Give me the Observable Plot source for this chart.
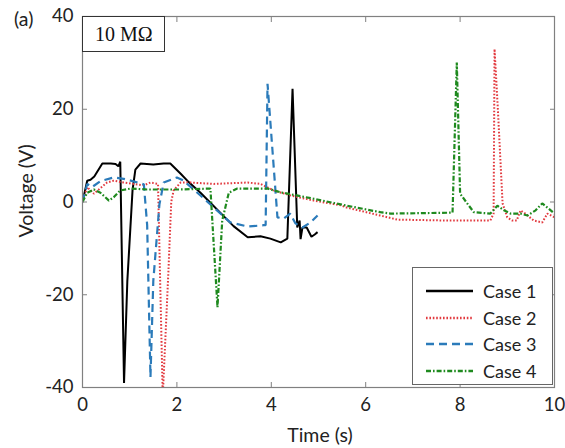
<!DOCTYPE html>
<html>
<head>
<meta charset="utf-8">
<script src="https://cdn.jsdelivr.net/npm/d3@7"></script>
<script src="https://cdn.jsdelivr.net/npm/@observablehq/plot@0.6"></script>
<style>
  html, body { margin: 0; padding: 0; background: #fff; }
  #wrap { position: relative; width: 565px; height: 448px; font-family: Lato, "Open Sans", sans-serif; color: #222; }
  #wrap > svg { position: absolute; left: 0; top: 0; }
  .lbl { position: absolute; font-size: 19.5px; white-space: nowrap; }
  #legend { position: absolute; left: 412px; top: 267px; width: 141px; height: 118px; border: 1px solid #666; background: #fff; box-sizing: border-box; }
  .row { position: absolute; left: 0; width: 139px; height: 24px; font-size: 18px; }
  .row svg { position: absolute; left: 0; top: 0; }
  .row span { position: absolute; left: 70px; top: 1px; line-height: 22px; white-space: nowrap; }
  #rbox { position: absolute; left: 82px; top: 16px; width: 83px; height: 36px; border: 1px solid #333; box-sizing: border-box; background: #fff; font-family: "Liberation Serif", "DejaVu Serif", serif; font-size: 20px; line-height: 34px; padding-left: 12px; color: #111; }
</style>
</head>
<body>
<div id="wrap"></div>
<script>
// ---- data ----
const case1T = [0, 0.1, 0.17, 0.25, 0.42, 0.6, 0.7, 0.76, 0.8, 0.88, 0.95, 1.06, 1.12, 1.23, 1.5, 1.72, 1.86, 2.08, 2.22, 2.5, 3.2, 3.5, 3.77, 3.98, 4.2, 4.34, 4.45, 4.55, 4.6, 4.62, 4.66, 4.75, 4.85, 4.92, 4.98];
const case1V = [0, 4.6, 4.8, 5.5, 8.3, 8.3, 8.2, 7.7, 8.7, -39, -17, 2.5, 7, 8.3, 8.1, 8.3, 8.3, 6.1, 4.6, 2.0, -5.2, -7.6, -7.4, -7.9, -8.7, -7.9, 24.4, -5.5, -4, -8, -5.5, -5.5, -7.5, -7, -6.5];

const case2T = [0, 0.1, 0.24, 0.52, 0.66, 0.87, 1.08, 1.3, 1.44, 1.6, 1.63, 1.7, 1.82, 1.88, 1.93, 2.08, 2.29, 2.78, 3.5, 3.77, 4.05, 4.41, 4.9, 5.47, 5.6, 6.3, 6.67, 7.73, 8.64, 8.71, 8.73, 8.8, 8.9, 9.0, 9.1, 9.2, 9.28, 9.38, 9.56, 9.74, 9.85, 10];
const case2V = [0, 3.2, 1.8, 4.2, 4.6, 4.2, 3.9, 3.6, 4.2, 3.9, -10, -42, -15, 0, 2.5, 4.2, 4.2, 3.9, 4.2, 3.9, 2.5, 1.4, 0.3, -0.7, -1.2, -2.9, -3.8, -4, -4, -2.5, 33, 20, -0.3, -3.3, -4, -4, -1.8, -2.5, -4, -4.4, -2.5, -3.3];

const case3T = [0, 0.1, 0.2, 0.38, 0.66, 0.87, 1.1, 1.3, 1.37, 1.44, 1.5, 1.63, 1.72, 2.0, 2.15, 2.22, 2.6, 3.13, 3.5, 3.84, 3.88, 3.92, 4.13, 4.26, 4.4, 4.51, 4.66, 4.83, 4.98];
const case3V = [0, 3.9, 3.2, 4.5, 5.3, 5.0, 4.4, 3.8, -5, -37.8, -17, -0.5, 4.2, 5.3, 4.6, 3.9, 0.5, -4.4, -5.3, -5, -5, 25.5, -3.3, -3.6, -2.5, -4.6, -5.5, -4.4, -2.9];

const case4T = [0, 0.1, 0.24, 0.38, 0.56, 0.66, 0.8, 1.02, 1.37, 2.08, 2.71, 2.75, 2.86, 2.96, 3.1, 3.28, 3.92, 4.19, 4.9, 5.6, 6.31, 6.53, 7.84, 7.93, 8.0, 8.15, 8.29, 8.64, 8.79, 8.93, 9.07, 9.28, 9.43, 9.6, 9.74, 9.87, 10];
const case4V = [0, 2, 2.7, 2, 0.3, 1, 2.5, 2.9, 2.7, 2.7, 2.9, -4, -22.7, -4, 2, 2.9, 2.9, 2.1, 0.7, -0.8, -2.2, -2.5, -2.3, 30.1, 1.8, -0.3, -2.2, -2.5, -0.8, -1.8, -2.5, -2.5, -2.9, -1.8, -0.3, -1.4, -2.5];

const caseNames = ["Case 1", "Case 2", "Case 3", "Case 4"];
const xTicks = [0, 2, 4, 6, 8, 10];
const yTicks = [-40, -20, 0, 20, 40];

// ---- styles ----
const styles = [
  {stroke: "#000000", strokeWidth: 2, dash: null},
  {stroke: "#e23a3f", strokeWidth: 2, dash: "1.6,1.8"},
  {stroke: "#2b7bba", strokeWidth: 2.2, dash: "8,5"},
  {stroke: "#1f8a1f", strokeWidth: 2.2, dash: "5,2,1.6,2"}
];

const series = [[case1T, case1V], [case2T, case2V], [case3T, case3V], [case4T, case4V]]
  .map(([t, v]) => t.map((ti, i) => ({t: ti, v: v[i]})));

const lineMarks = series.map((d, i) => Plot.line(d, {
  x: "t", y: "v",
  stroke: styles[i].stroke,
  strokeWidth: styles[i].strokeWidth,
  strokeDasharray: styles[i].dash,
  strokeLinejoin: "miter",
  strokeLinecap: "butt",
  clip: true
}));

const axisColor = "#808080";
const fmt = d => String(d);
const chart = Plot.plot({
  width: 565,
  height: 448,
  marginLeft: 82,
  marginTop: 16,
  marginRight: 11,
  marginBottom: 61,
  style: {fontFamily: "Lato, 'Open Sans', sans-serif", fontSize: "17px", color: "#222", background: "#fff"},
  x: {domain: [0, 10]},
  y: {domain: [-40, 40]},
  marks: [
    ...lineMarks,
    Plot.frame({stroke: axisColor, strokeWidth: 1.2}),
    Plot.axisX(xTicks, {anchor: "bottom", tickSize: -5, stroke: axisColor, text: null, label: null}),
    Plot.axisX(xTicks, {anchor: "top", tickSize: -5, stroke: axisColor, text: null, label: null}),
    Plot.axisY(yTicks, {anchor: "left", tickSize: -5, stroke: axisColor, text: null, label: null}),
    Plot.axisY(yTicks, {anchor: "right", tickSize: -5, stroke: axisColor, text: null, label: null}),
    Plot.axisX(xTicks, {anchor: "bottom", tickSize: 0, tickPadding: 10, tickFormat: fmt, label: null, fill: "#222", fontSize: 18.5}),
    Plot.axisY(yTicks, {anchor: "left", tickSize: 0, tickPadding: 9, tickFormat: fmt, label: null, fill: "#222", fontSize: 18.5})
  ]
});

const wrap = document.getElementById("wrap");
wrap.appendChild(chart);

function addLabel(text, css) {
  const el = document.createElement("div");
  el.className = "lbl";
  el.textContent = text;
  Object.assign(el.style, css);
  wrap.appendChild(el);
  return el;
}
addLabel("(a)", {left: "14px", top: "7px"});
addLabel("Time (s)", {left: "320px", top: "423px", transform: "translateX(-50%)"});
addLabel("Voltage (V)", {left: "25px", top: "191px", transform: "translate(-50%, -50%) rotate(-90deg)"});

const rbox = document.createElement("div");
rbox.id = "rbox";
rbox.textContent = "10 M\u03A9";
wrap.appendChild(rbox);

// legend
const legend = document.createElement("div");
legend.id = "legend";
caseNames.forEach((name, i) => {
  const row = document.createElement("div");
  row.className = "row";
  row.style.top = (11 + i * 26.5) + "px";
  const s = styles[i];
  row.innerHTML = `<svg width="70" height="24"><line x1="13" x2="60" y1="12" y2="12" stroke="${s.stroke}" stroke-width="${s.strokeWidth + 0.3}" stroke-linecap="butt" ${s.dash ? `stroke-dasharray="${s.dash}"` : ""}/></svg><span>${name}</span>`;
  legend.appendChild(row);
});
wrap.appendChild(legend);
</script>
</body>
</html>
